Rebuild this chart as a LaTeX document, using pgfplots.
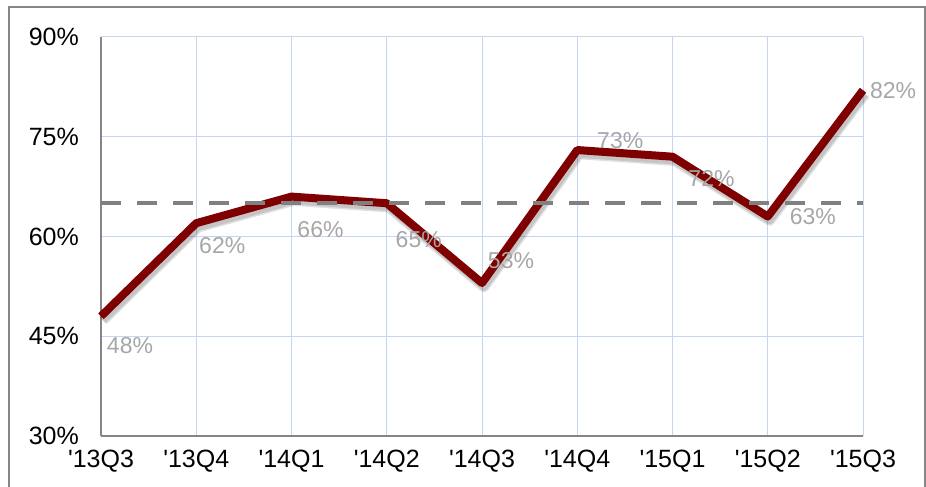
\documentclass[border=0pt]{standalone}
\usepackage{pgfplots}
\pgfplotsset{compat=1.18}
\usepackage{pgfplotstable}
\usepackage{fontspec}
\setmainfont{Liberation Sans}

\definecolor{linered}{HTML}{7F0000}
\definecolor{gridblue}{HTML}{C6D6F2}
\definecolor{axisgray}{HTML}{868686}
\definecolor{labelgray}{HTML}{A6A6A6}
\definecolor{dashgray}{HTML}{808080}

% quarter index, rate (%), label offset (bp)
\pgfplotstableread{
x val dx dy
0 48 29 -29
1 62 26 -22
2 66 29 -33
3 65 32 -36
4 53 29 22
5 73 43 9
6 72 39 -22
7 63 45 0
8 82 30 0
}\rates

\begin{document}
\begin{tikzpicture}[x=1bp,y=1bp]
\useasboundingbox (0,0) rectangle (926,487);
\draw[axisgray, line width=1.5bp] (9,-2) -- (9,480) -- (925,480) -- (925,-2);
\begin{axis}[
  at={(101bp,51bp)}, anchor=south west,
  scale only axis, width=762bp, height=399bp,
  xmin=0, xmax=8, ymin=30, ymax=90,
  xtick={0,...,8},
  xticklabels={{\textquotesingle13Q3},{\textquotesingle13Q4},{\textquotesingle14Q1},{\textquotesingle14Q2},{\textquotesingle14Q3},{\textquotesingle14Q4},{\textquotesingle15Q1},{\textquotesingle15Q2},{\textquotesingle15Q3}},
  ytick={30,45,60,75,90},
  yticklabels={30\%,45\%,60\%,75\%,90\%},
  axis x line*=bottom, axis y line*=left,
  axis line style={axisgray, line width=1.8bp, -},
  grid=major, grid style={gridblue, line width=1bp},
  major tick length=0pt,
  tick label style={font=\fontsize{25bp}{30bp}\selectfont, inner sep=0pt, text=black},
  xticklabel style={anchor=north, yshift=-14bp},
  yticklabel style={anchor=east, xshift=-22bp},
  clip=false,
]
% soft shadow under the rate line
\addplot[black, opacity=0.12, line width=10.5bp, line join=round, xshift=2bp, yshift=-4bp] table[x=x, y=val] {\rates};
\addplot[black, opacity=0.12, line width=7.5bp, line join=round, xshift=2bp, yshift=-4bp] table[x=x, y=val] {\rates};
% rate line
\addplot[linered, line width=8bp, line join=round] table[x=x, y=val] {\rates};
% 65% reference
\addplot[dashgray, line width=4.5bp, dash pattern=on 20bp off 16bp] coordinates {(0,65) (8,65)};
% value labels
\addplot[draw=none, mark=none, point meta=explicit,
  visualization depends on={\thisrow{dx} \as \dx},
  visualization depends on={\thisrow{dy} \as \dy},
  nodes near coords={\pgfmathprintnumber[assume math mode=true, precision=0]{\pgfplotspointmeta}\%},
  nodes near coords style={anchor=center, xshift=\dx bp, yshift=\dy bp, inner sep=0pt,
    font=\fontsize{23bp}{27bp}\selectfont, text=labelgray},
] table[x=x, y=val, meta=val] {\rates};
\end{axis}
\end{tikzpicture}
\end{document}
